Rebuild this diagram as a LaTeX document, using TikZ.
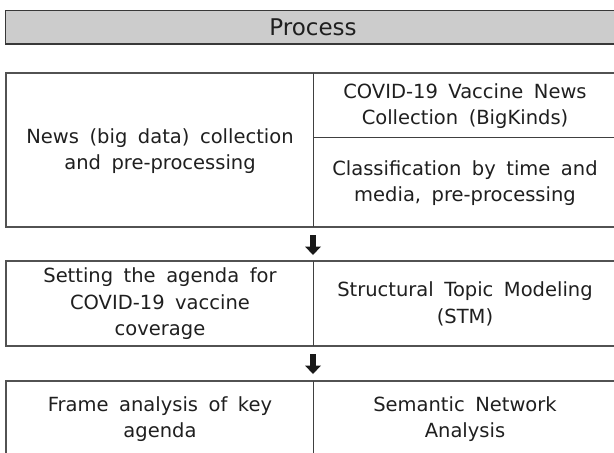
\documentclass[tikz,border=0pt]{standalone}
\usepackage{fontspec}
\setmainfont{DejaVu Sans}[WordSpace=1.7]
\begin{document}
\begin{tikzpicture}[x=1pt,y=-1pt]
\tikzset{
  outerframe/.style={draw=black!68, line width=1.3pt},
  headframe/.style={draw=black!78, line width=1.3pt, fill=black!20},
  innerline/.style={draw=black!75, line width=0.9pt},
  txt/.style={align=center, inner sep=0pt, font=\fontsize{19.5}{26.5}\selectfont, text=black!88},
  headtxt/.style={inner sep=0pt, font=\fontsize{23}{27}\selectfont, text=black!88},
  blockarrow/.style={fill=black!90}
}
\useasboundingbox (0,0) rectangle (614,453);
\clip (0,0) rectangle (614,453);
\fill[white] (0,0) rectangle (614,453);

% header
\draw[headframe] (5.5,10.7) rectangle (630,44);
\node[headtxt] (hdr) at (313,27.6) {Process};

% box 1
\draw[outerframe] (6,73) rectangle (630,227);
\draw[innerline] (313,73) -- (313,227);
\draw[innerline] (313,137) -- (630,137);
\node[txt] (collect) at (160,151) {News (big data) collection\\and pre-processing};
\node[txt] (bigkinds) at (465,106) {COVID-19 Vaccine News\\Collection (BigKinds)};
\node[txt] (classify) at (465,183) {Classification by time and\\media, pre-processing};

% arrow 1
\coordinate (a1) at (313,235);
\fill[blockarrow] (a1) ++(-2.8,0) -- ++(5.6,0) -- ++(0,11.5) -- ++(5.2,0) -- ++(-8,8.5) -- ++(-8,-8.5) -- ++(5.2,0) -- cycle;

% box 2
\draw[outerframe] (6,261) rectangle (630,346);
\draw[innerline] (313,261) -- (313,346);
\node[txt] (agenda) at (160,304) {Setting the agenda for\\COVID-19 vaccine\\coverage};
\node[txt] (stm) at (465,304) {Structural Topic Modeling\\(STM)};

% arrow 2
\coordinate (a2) at (313,354);
\fill[blockarrow] (a2) ++(-2.8,0) -- ++(5.6,0) -- ++(0,11.5) -- ++(5.2,0) -- ++(-8,8.5) -- ++(-8,-8.5) -- ++(5.2,0) -- cycle;

% box 3
\draw[outerframe] (6,381) rectangle (630,470);
\draw[innerline] (313,381) -- (313,470);
\node[txt] (frame) at (160,419) {Frame analysis of key\\agenda};
\node[txt] (sna) at (465,419) {Semantic Network\\Analysis};
\end{tikzpicture}
\end{document}
